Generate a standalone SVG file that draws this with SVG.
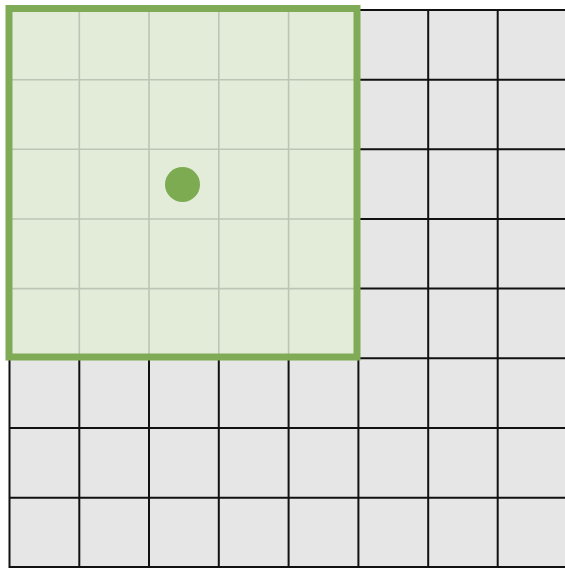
<svg xmlns="http://www.w3.org/2000/svg" width="565" height="568" viewBox="0 0 565 568">
<style>
.bg{fill:#e6e6e6}
.grid line{stroke:#111;stroke-width:2}
.inner line{stroke:#bcc5b5;stroke-width:1.6}
.win{fill:#e3ecd9}
.winb{fill:none;stroke:#7fab57;stroke-width:7}
.dot{fill:#7dab52}
</style>
<rect width="565" height="568" fill="#ffffff"/>
<rect class="bg" x="9.5" y="10" width="560" height="560"/>
<g class="grid" id="grid">
<line x1="9.5" y1="10" x2="9.5" y2="570"/>
<line x1="79.3" y1="10" x2="79.3" y2="570"/>
<line x1="149" y1="10" x2="149" y2="570"/>
<line x1="218.8" y1="10" x2="218.8" y2="570"/>
<line x1="288.6" y1="10" x2="288.6" y2="570"/>
<line x1="358.4" y1="10" x2="358.4" y2="570"/>
<line x1="428.2" y1="10" x2="428.2" y2="570"/>
<line x1="497.7" y1="10" x2="497.7" y2="570"/>
<line x1="9.5" y1="10" x2="570" y2="10"/>
<line x1="9.5" y1="79.7" x2="570" y2="79.7"/>
<line x1="9.5" y1="149.3" x2="570" y2="149.3"/>
<line x1="9.5" y1="219" x2="570" y2="219"/>
<line x1="9.5" y1="288.6" x2="570" y2="288.6"/>
<line x1="9.5" y1="358.3" x2="570" y2="358.3"/>
<line x1="9.5" y1="428" x2="570" y2="428"/>
<line x1="9.5" y1="497.7" x2="570" y2="497.7"/>
<line x1="9.5" y1="567" x2="570" y2="567"/>
</g>
<g id="window">
<rect class="win" x="9" y="8.5" width="348" height="348.5"/>
<g class="inner">
<line x1="79.3" y1="9" x2="79.3" y2="357"/>
<line x1="149" y1="9" x2="149" y2="357"/>
<line x1="218.8" y1="9" x2="218.8" y2="357"/>
<line x1="288.6" y1="9" x2="288.6" y2="357"/>
<line x1="9" y1="79.7" x2="357" y2="79.7"/>
<line x1="9" y1="149.3" x2="357" y2="149.3"/>
<line x1="9" y1="219" x2="357" y2="219"/>
<line x1="9" y1="288.6" x2="357" y2="288.6"/>
</g>
<rect class="winb" x="9" y="8.5" width="348" height="348.5"/>
</g>
<g id="center">
<circle class="dot" cx="182.5" cy="184.5" r="17.5"/>
</g>
</svg>
